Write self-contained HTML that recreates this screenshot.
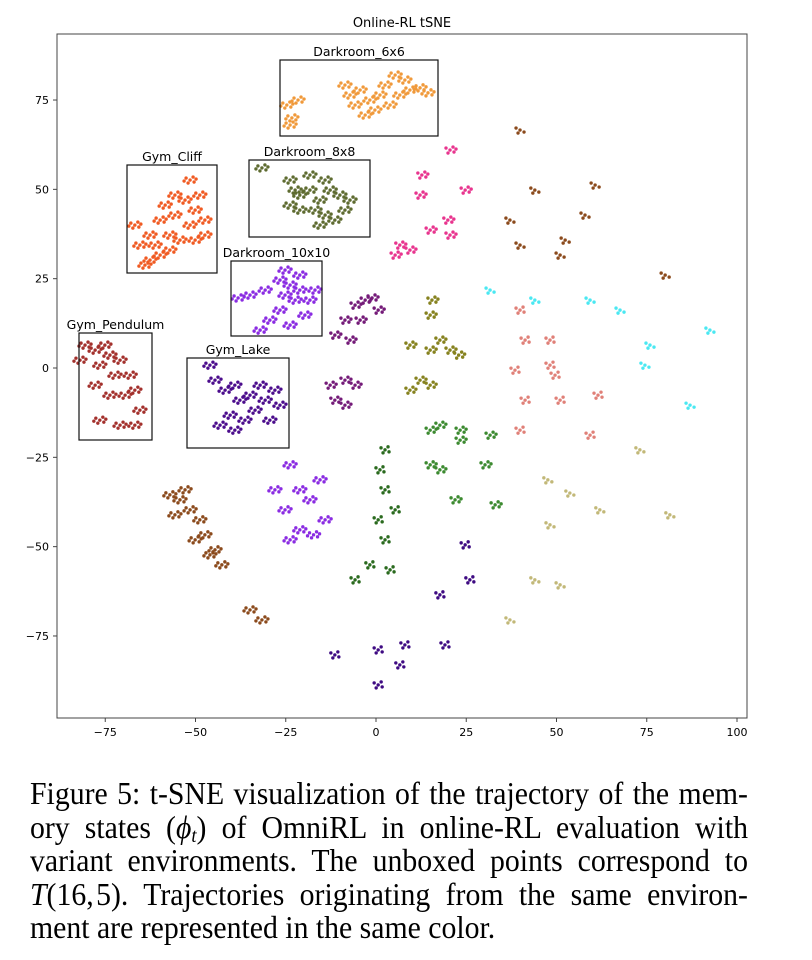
<!DOCTYPE html>
<html><head><meta charset="utf-8"><style>
body{margin:0;background:#fff;width:812px;height:960px;position:relative;overflow:hidden}
svg{position:absolute;left:0;top:0}
#cap{position:absolute;left:30px;top:777px;width:772px;font-family:"Liberation Serif",serif;font-size:32px;line-height:33.6px;transform:scaleX(0.93);transform-origin:0 0;color:#000}
#cap .ln{text-align:justify;text-align-last:justify;white-space:nowrap;height:33.6px}
#cap .last{text-align-last:left}
#cap sub{font-size:20px;line-height:0;vertical-align:-4px}
</style></head><body>
<svg id="chart" width="812" height="770" font-family="DejaVu Sans, Liberation Sans, sans-serif"></svg>
<div id="cap">
<div class="ln">Figure 5: t-SNE visualization of the trajectory of the mem-</div>
<div class="ln">ory states (<i>ϕ<sub>t</sub></i>) of OmniRL in online-RL evaluation with</div>
<div class="ln">variant environments. The unboxed points correspond to</div>
<div class="ln"><i>T</i>(16,&#8202;5). Trajectories originating from the same environ-</div>
<div class="ln last">ment are represented in the same color.</div>
</div>
<script>
const xTicks=[-75,-50,-25,0,25,50,75,100];
const yTicks=[-75,-50,-25,0,25,50,75];
const darkroom6=[[-24.7,73.6],[-23.3,70.0],[-23.8,68.0],[-21.6,75.0],[-7.2,76.4],[-4.4,77.8],[-1.7,75.0],[1.1,76.4],[2.5,79.2],[5.3,82.0],[8.0,80.6],[6.6,76.4],[3.9,73.6],[-0.3,72.2],[-3.0,70.8],[-5.8,73.6],[9.4,77.8],[12.2,78.4],[14.4,77.0],[-8.6,79.2]];
const gymCliff=[[-66.8,40.0],[-65.4,34.4],[-62.6,37.2],[-59.8,41.4],[-58.4,45.6],[-55.7,48.4],[-52.9,47.0],[-50.1,44.2],[-47.4,41.4],[-47.4,37.2],[-50.1,35.8],[-54.3,35.8],[-57.1,37.2],[-59.8,31.6],[-62.6,30.2],[-64.0,28.8],[-51.5,40.0],[-55.7,42.8],[-48.8,48.4],[-51.5,52.6],[-61.2,34.4],[-57.1,33.0]];
const darkroom8=[[-31.6,56.0],[-23.8,52.6],[-21.1,48.4],[-18.3,49.8],[-15.5,47.0],[-12.7,49.8],[-10.0,48.4],[-8.6,44.2],[-11.4,41.4],[-14.1,42.8],[-16.9,44.2],[-21.1,44.2],[-23.8,45.6],[-18.3,54.0],[-14.1,52.6],[-7.2,47.0],[-15.5,40.0],[-22.4,49.8]];
const darkroom10=[[-38.2,19.6],[-34.9,20.4],[-30.7,21.8],[-26.6,24.6],[-25.2,27.4],[-23.8,23.2],[-21.1,21.8],[-18.3,19.0],[-16.9,21.8],[-22.4,19.0],[-26.6,16.2],[-29.4,13.4],[-32.1,10.6],[-23.8,12.0],[-19.7,14.8],[-25.2,20.4],[-21.1,26.0]];
const gymPendulum=[[-80.6,6.4],[-77.8,5.0],[-75.1,6.4],[-73.7,3.6],[-70.9,2.2],[-68.1,-2.0],[-66.8,-6.2],[-65.4,-11.8],[-66.8,-16.0],[-70.9,-16.0],[-76.5,-14.6],[-73.7,-7.6],[-77.8,-4.8],[-82.0,2.2],[-72.3,-2.0],[-69.5,-7.6],[-76.5,0.8]];
const gymLake=[[-46.0,0.8],[-44.6,-3.4],[-41.8,-6.2],[-39.1,-4.8],[-37.7,-9.0],[-40.4,-13.2],[-36.3,-14.6],[-33.5,-11.8],[-30.7,-9.0],[-29.4,-14.6],[-28.0,-6.2],[-32.1,-4.8],[-34.9,-7.6],[-43.2,-16.0],[-39.1,-17.4],[-26.6,-10.4]];
const uMagenta=[[-11.4,9.2],[-8.6,13.4],[-5.8,17.6],[-3.0,19.0],[-1.1,19.6],[0.6,16.2],[-4.4,13.4],[-7.2,7.8],[-12.7,-4.8],[-8.6,-3.4],[-11.4,-9.0],[-8.6,-10.4],[-5.8,-4.8]];
const uPink=[[12.7,54.0],[20.5,61.0],[24.7,49.8],[19.9,41.4],[15.0,38.6],[20.5,37.2],[6.6,34.4],[5.3,31.6],[9.4,33.0],[12.2,48.4]];
const uOlive=[[15.5,19.0],[15.0,14.8],[9.4,6.4],[15.0,5.0],[20.5,5.0],[22.9,3.6],[17.7,7.8],[9.4,-6.2],[15.0,-4.8],[12.2,-3.4]];
const uGreen=[[15.0,-17.4],[17.7,-16.0],[23.3,-17.4],[31.6,-18.8],[30.2,-27.1],[17.7,-28.5],[21.9,-36.9],[33.0,-38.3],[23.3,-20.2],[15.0,-27.1]];
const uDarkGreen=[[2.5,-22.9],[1.1,-28.5],[2.5,-34.1],[0.6,-42.5],[2.5,-48.1],[-1.7,-55.1],[3.9,-56.5],[-5.8,-59.3],[5.3,-39.7]];
const uIndigo=[[24.7,-49.5],[17.7,-63.5],[26.0,-59.3],[19.1,-77.5],[8.0,-77.5],[6.6,-83.1],[0.6,-78.9],[0.6,-88.7],[-11.4,-80.3]];
const uPurple=[[-23.8,-27.1],[-28.0,-34.1],[-25.2,-39.7],[-21.1,-34.1],[-18.3,-36.9],[-15.5,-31.3],[-14.1,-42.5],[-21.1,-45.3],[-23.8,-48.1],[-17.3,-46.7]];
const uBrownLeft=[[-57.1,-35.5],[-54.3,-36.9],[-51.5,-39.7],[-48.8,-42.5],[-47.4,-46.7],[-44.6,-50.9],[-42.7,-55.1],[-55.7,-41.1],[-50.1,-48.1],[-46.0,-52.3],[-52.9,-34.1],[-34.9,-67.7],[-31.6,-70.5]];
const uBrownRight=[[39.9,66.6],[44.0,49.8],[39.9,34.4],[37.1,41.4],[52.4,35.8],[57.9,42.8],[60.7,51.2],[51.0,31.6],[80.1,26.0]];
const uCyan=[[31.6,21.8],[44.0,19.0],[59.3,19.0],[67.6,16.2],[74.5,0.8],[75.9,6.4],[87.0,-10.4],[92.5,10.6]];
const uSalmon=[[39.9,16.2],[41.3,7.8],[48.2,7.8],[38.5,-0.6],[48.2,0.8],[41.3,-9.0],[51.0,-9.0],[61.5,-7.6],[59.3,-18.8],[39.9,-17.4],[49.6,-2.0]];
const uKhaki=[[73.1,-22.9],[47.6,-31.3],[53.7,-35.0],[48.2,-43.9],[62.0,-39.7],[44.0,-59.3],[51.0,-60.7],[81.4,-41.1],[37.1,-70.5]];

const svg=document.getElementById('chart');
const NS='http://www.w3.org/2000/svg';
const L=57,R=747,T=34,B=718;
const X=v=>376+v*3.61, Y=v=>368-v*3.573;
const blobPattern=[[0,0],[-4,-2],[4,2],[-2,3],[3,-3],[6,-1],[-6,1]];
function mk(tag,attrs){const e=document.createElementNS(NS,tag);for(const k in attrs)e.setAttribute(k,attrs[k]);svg.appendChild(e);return e;}

const title=mk('text',{x:402,y:27,'text-anchor':'middle','font-size':13});title.textContent='Online-RL tSNE';


const frame=mk('rect',{x:L,y:T,width:R-L,height:B-T,fill:'none',stroke:'#444','stroke-width':1});


xTicks.forEach(t=>{mk('line',{x1:X(t),x2:X(t),y1:B,y2:B+4,stroke:'#444'});const tx=mk('text',{x:X(t),y:B+18,'text-anchor':'middle','font-size':11});tx.textContent=t<0?'\u2212'+(-t):t;

});
yTicks.forEach(t=>{mk('line',{x1:L-4,x2:L,y1:Y(t),y2:Y(t),stroke:'#444'});const tx=mk('text',{x:L-8,y:Y(t)+4,'text-anchor':'end','font-size':11});tx.textContent=t<0?'\u2212'+(-t):t;

});

const series=[
 [darkroom6,'#f0993a','darkroom-6x6',7],[gymCliff,'#f05a22','gym-cliff',7],[darkroom8,'#5e6b30','darkroom-8x8',7],
 [darkroom10,'#8a2be2','darkroom-10x10',7],[gymPendulum,'#a3302c','gym-pendulum',7],[gymLake,'#4b0c8c','gym-lake',7],
 [uMagenta,'#741a78','t16-magenta',6],[uPink,'#e8348e','t16-pink',6],[uOlive,'#86821f','t16-olive',6],
 [uGreen,'#3c8a30','t16-green',6],[uDarkGreen,'#2a6a1e','t16-darkgreen',5],[uIndigo,'#3e0a82','t16-indigo',5],
 [uPurple,'#8a2be2','t16-purple',7],[uBrownLeft,'#8b4a1c','t16-brown-left',7],[uBrownRight,'#8b4a1c','t16-brown-right',4],
 [uCyan,'#4ae8f2','t16-cyan',4],[uSalmon,'#e08078','t16-salmon',5],[uKhaki,'#c2b878','t16-khaki',4]];
series.forEach(([pts,c,n,k])=>{
 const g=document.createElementNS(NS,'g');svg.appendChild(g);
 
 
 g.setAttribute('fill',c);
 pts.forEach(p=>{
  for(let i=0;i<k;i++){const o=blobPattern[i];const e=document.createElementNS(NS,'circle');
   e.setAttribute('cx',X(p[0])+o[0]);e.setAttribute('cy',Y(p[1])+o[1]);e.setAttribute('r',1.7);
   
   
   g.appendChild(e);}
 });
});

const boxes=[[280,60,158,76,'Darkroom_6x6'],[127,165,90,108,'Gym_Cliff'],[249,160,121,77,'Darkroom_8x8'],[231,261,91,75,'Darkroom_10x10'],[79,333,73,107,'Gym_Pendulum'],[187,358,102,90,'Gym_Lake']];
boxes.forEach(b=>{const r=mk('rect',{x:b[0],y:b[1],width:b[2],height:b[3],fill:'none',stroke:'#111','stroke-width':1.2});
 
 
 const t=mk('text',{x:b[0]+b[2]/2,y:b[1]-4,'text-anchor':'middle','font-size':12.5});t.textContent=b[4];
 
 });
</script>
</body></html>
